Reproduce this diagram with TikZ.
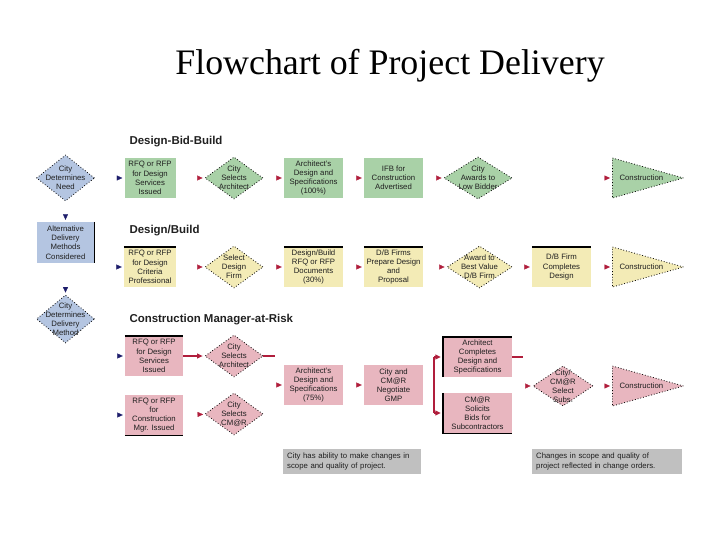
\documentclass[tikz,border=0pt]{standalone}
\usepackage{fontspec}
\setmainfont{Liberation Serif}
\setsansfont{Liberation Sans}
\usetikzlibrary{arrows.meta, positioning, calc, shapes.geometric}

\begin{document}
\begin{tikzpicture}[
    x=1bp, y=-1bp,
    every node/.style={font=\sffamily},
]

% ---------------------------------------------------------------- colours
\definecolor{dbbgreen}{HTML}{A9D1A7}   % design-bid-build
\definecolor{dbyellow}{HTML}{F3EBB6}   % design/build
\definecolor{cmrpink}{HTML}{E8B6BF}    % construction manager-at-risk
\definecolor{startblue}{HTML}{B4C5E1}  % the steps before a method is chosen
\definecolor{notegrey}{HTML}{C0C0C0}
\definecolor{tipred}{HTML}{B01E3C}
\definecolor{tipnavy}{HTML}{1D1D6B}
\definecolor{inkcolor}{HTML}{202020}

% ---------------------------------------------------------------- styles
\tikzset{
    txt/.style={font=\sffamily\fontsize{7.8}{9.2}\selectfont, text=inkcolor,
                align=center},
    box/.style={rectangle, fill=#1, minimum width=59bp, minimum height=40bp,
                inner sep=0pt, txt},
    dia/.style={diamond, fill=#1, draw=black, line width=0.8bp,
                dash pattern=on 0.8bp off 2bp, minimum width=58bp,
                minimum height=42bp, inner sep=0pt},
    cons/.style={isosceles triangle, isosceles triangle stretches, fill=#1,
                 draw=black, line width=0.8bp, dash pattern=on 0.8bp off 2bp,
                 minimum width=40bp, minimum height=71bp, inner sep=0pt,
                 anchor=west},
    head/.style={draw=white, line width=0.3bp, shorten >=2bp,
                 -{Triangle[length=5.5bp, width=5bp, color=#1, fill=#1]}},
    link/.style={draw=tipred, line width=1.1bp, shorten >=2bp,
                 -{Triangle[length=5.5bp, width=5bp]}},
    wire/.style={draw=tipred, line width=1.1bp},
    rule/.style={black, line width=1.4bp},
    heading/.style={font=\sffamily\bfseries\fontsize{11.5}{13}\selectfont,
                    text=inkcolor, anchor=west},
    note/.style={rectangle, fill=notegrey, minimum height=23bp,
                 inner sep=4bp, txt, align=left, anchor=west},
}

\useasboundingbox (0,0) rectangle (720,540);

\node[font=\rmfamily\fontsize{36}{40}\selectfont, anchor=base] (title)
    at (390,75) {Flowchart of Project Delivery};

% ----------------------------------------------------------------------
% left column: choosing the delivery method
% ----------------------------------------------------------------------
\node[dia=startblue, minimum height=46bp,
      label={[txt]center:{City\\Determines\\Need}}] (need) at (65.5,178) {};
\node[box=startblue, minimum width=58bp, minimum height=41bp] (alt)
    at (65.5,242.5) {Alternative\\Delivery\\Methods\\Considered};
\node[dia=startblue, minimum height=48bp,
      label={[txt]center:{City\\Determines\\Delivery\\Method}}] (method)
    at (65.5,319) {};

\draw[head=tipnavy] (need) -- (alt);
\draw[head=tipnavy] (alt) -- (method);
\draw[rule] (alt.north east) -- (alt.south east);

% ----------------------------------------------------------------------
% Design-Bid-Build
% ----------------------------------------------------------------------
\node[heading] (h-dbb) at (126,142) {Design-Bid-Build};

\node[box=dbbgreen, minimum width=51bp] (dbb-rfq) at (150,178)
    {RFQ or RFP\\for Design\\Services\\Issued};
\node[dia=dbbgreen, label={[txt]center:{City\\Selects\\Architect}}]
    (dbb-sel) at (234,178) {};
\node[box=dbbgreen] (dbb-arch) at (313.5,178)
    {Architect's\\Design and\\Specifications\\(100\%)};
\node[box=dbbgreen] (dbb-ifb) at (393.5,178)
    {IFB for\\Construction\\Advertised};
\node[dia=dbbgreen, minimum width=68bp,
      label={[txt]center:{City\\Awards to\\Low Bidder}}] (dbb-award)
    at (478,178) {};
\node[cons=dbbgreen, label={[txt, anchor=west, xshift=4bp]west:Construction}]
    (dbb-con) at (612,178) {};

\draw[head=tipnavy] (dbb-rfq.west) ++(-10bp,0) -- (dbb-rfq.west);
\draw[head=tipred] (dbb-rfq) -- (dbb-sel);
\draw[head=tipred] (dbb-sel) -- (dbb-arch);
\draw[head=tipred] (dbb-arch) -- (dbb-ifb);
\draw[head=tipred] (dbb-ifb) -- (dbb-award);
\draw[head=tipred] (dbb-award) -- (dbb-con);

% ----------------------------------------------------------------------
% Design/Build
% ----------------------------------------------------------------------
\node[heading] (h-db) at (126,231) {Design/Build};

\node[box=dbyellow, minimum width=52bp] (db-rfq) at (150,267)
    {RFQ or RFP\\for Design\\Criteria\\Professional};
\node[dia=dbyellow, label={[txt]center:{Select\\Design\\Firm}}]
    (db-sel) at (234,267) {};
\node[box=dbyellow] (db-docs) at (313.5,267)
    {Design/Build\\RFQ or RFP\\Documents\\(30\%)};
\node[box=dbyellow] (db-prep) at (393.5,267)
    {D/B Firms\\Prepare Design\\and\\Proposal};
\node[dia=dbyellow, minimum width=65bp,
      label={[txt]center:{Award to\\Best Value\\D/B Firm}}] (db-award)
    at (479.5,267) {};
\node[box=dbyellow] (db-comp) at (561.5,267)
    {D/B Firm\\Completes\\Design};
\node[cons=dbyellow, label={[txt, anchor=west, xshift=4bp]west:Construction}]
    (db-con) at (612,267) {};

\draw[rule] (db-rfq.north west) -- (db-rfq.north east);
\draw[rule] (db-docs.north west) -- (db-docs.north east);
\draw[rule] (db-prep.north west) -- (db-prep.north east);
\draw[rule] (db-comp.north west) -- (db-comp.north east);

\draw[head=tipnavy] (db-rfq.west) ++(-10bp,0) -- (db-rfq.west);
\draw[head=tipred] (db-rfq) -- (db-sel);
\draw[head=tipred] (db-sel) -- (db-docs);
\draw[head=tipred] (db-docs) -- (db-prep);
\draw[head=tipred] (db-prep) -- (db-award);
\draw[head=tipred] (db-award) -- (db-comp);
\draw[head=tipred] (db-comp) -- (db-con);

% ----------------------------------------------------------------------
% Construction Manager-at-Risk: two starts, one fork
% ----------------------------------------------------------------------
\node[heading] (h-cmr) at (126,320) {Construction Manager-at-Risk};

\node[box=cmrpink, minimum width=58bp] (cmr-rfq) at (154,356)
    {RFQ or RFP\\for Design\\Services\\Issued};
\node[dia=cmrpink, label={[txt]center:{City\\Selects\\Architect}}]
    (cmr-sel) at (234,356) {};
\node[box=cmrpink, minimum width=58bp] (cmr-rfqc) at (154,415)
    {RFQ or RFP\\for\\Construction\\Mgr. Issued};
\node[dia=cmrpink, label={[txt]center:{City\\Selects\\CM@R}}]
    (cmr-selcm) at (234,414) {};
\node[box=cmrpink] (cmr-arch) at (313.5,385)
    {Architect's\\Design and\\Specifications\\(75\%)};
\node[box=cmrpink] (cmr-gmp) at (393.5,385)
    {City and\\CM@R\\Negotiate\\GMP};
\node[box=cmrpink, minimum width=69bp] (cmr-acd) at (477.5,357)
    {Architect\\Completes\\Design and\\Specifications};
\node[box=cmrpink, minimum width=69bp] (cmr-bids) at (477.5,413)
    {CM@R\\Solicits\\Bids for\\Subcontractors};
\node[dia=cmrpink, minimum width=60bp, minimum height=40bp,
      label={[txt]center:{City/\\CM@R\\Select\\Subs.}}] (cmr-subs)
    at (563,386) {};
\node[cons=cmrpink, label={[txt, anchor=west, xshift=4bp]west:Construction}]
    (cmr-con) at (612,386) {};

\draw[rule] (cmr-rfq.north west) -- (cmr-rfq.north east);
\draw[rule] (cmr-rfqc.south west) -- (cmr-rfqc.south east);
\draw[rule] (cmr-acd.south west) -- (cmr-acd.north west)
    -- (cmr-acd.north east);
\draw[rule] (cmr-bids.north west) -- (cmr-bids.south west)
    -- (cmr-bids.south east);

% loose ends, as in the original
\coordinate (sel-end) at (275,356);
\coordinate (acd-end) at (523,357);
\coordinate (fork-t) at (434,357);
\coordinate (fork-b) at (434,413);

\draw[head=tipnavy] (cmr-rfq.west) ++(-10bp,0) -- (cmr-rfq.west);
\draw[head=tipnavy] (cmr-rfqc.west) ++(-10bp,0) -- (cmr-rfqc.west);
\draw[link] (cmr-rfq) -- (cmr-sel);
\draw[head=tipred] (cmr-rfqc) -- (cmr-selcm);
\draw[wire] (cmr-sel) -- (sel-end);
\draw[head=tipred] (cmr-arch.west) ++(-10bp,0) -- (cmr-arch.west);
\draw[head=tipred] (cmr-arch) -- (cmr-gmp);
\draw[wire] (fork-t) -- (fork-b);
\draw[link] (fork-t) -- (cmr-acd);
\draw[link] (fork-b) -- (cmr-bids);
\draw[wire] (cmr-acd) -- (acd-end);
\draw[head=tipred] (cmr-subs.west) ++(-10bp,0) -- (cmr-subs.west);
\draw[head=tipred] (cmr-subs) -- (cmr-con);

% ----------------------------------------------------------------------
% notes
% ----------------------------------------------------------------------
\node[note, text width=130bp] (note-l) at (283,461.5)
    {City has ability to make changes in\\scope and quality of project.};
\node[note, text width=142bp] (note-r) at (532,461.5)
    {Changes in scope and quality of\\project reflected in change orders.};

\end{tikzpicture}
\end{document}
